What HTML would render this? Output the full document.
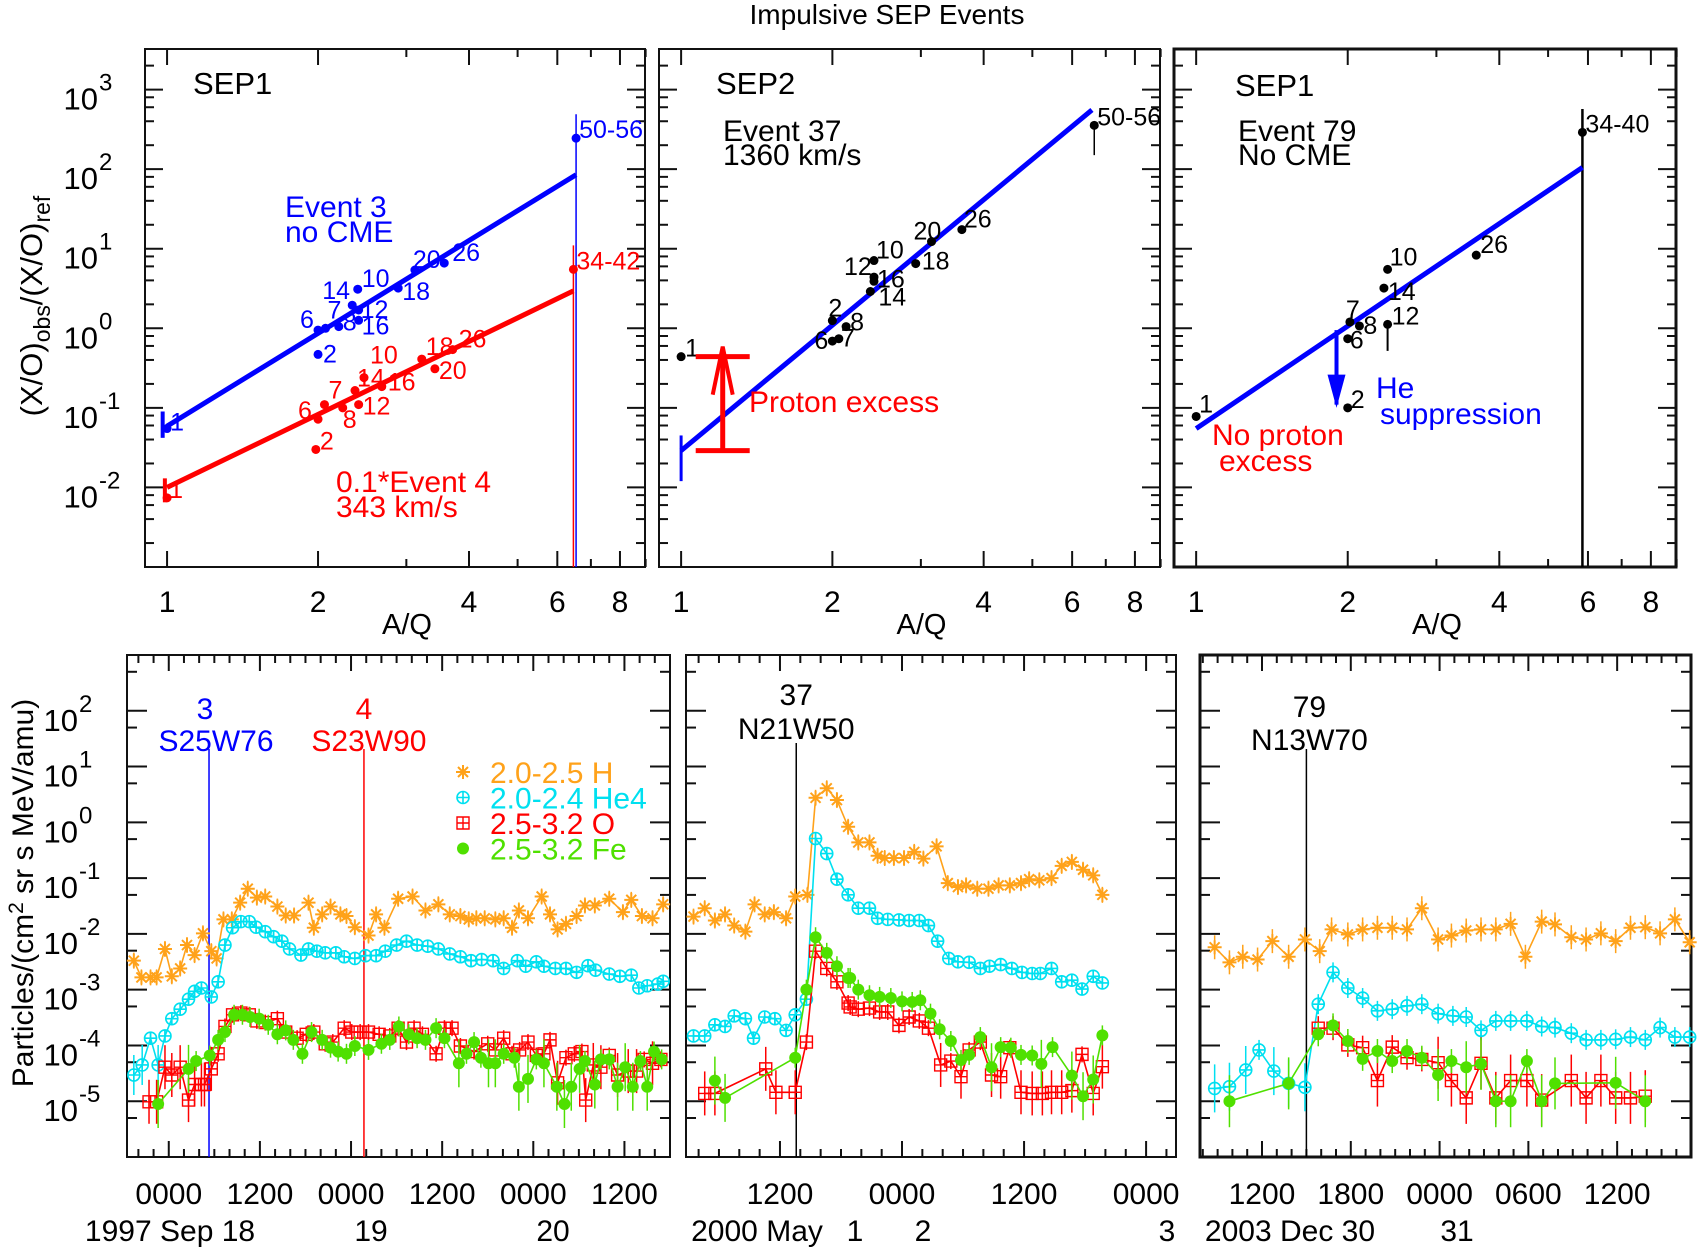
<!DOCTYPE html>
<html><head><meta charset="utf-8"><title>Impulsive SEP Events</title>
<style>
html,body{margin:0;padding:0;background:#fff;}
svg{display:block;font-family:"Liberation Sans",Arial,sans-serif;}
</style></head>
<body>
<svg id="chart" width="1699" height="1250" viewBox="0 0 1699 1250" xmlns="http://www.w3.org/2000/svg">
<rect x="0" y="0" width="1699" height="1250" fill="#fff"/>
<text x="887" y="24" font-size="28" text-anchor="middle">Impulsive SEP Events</text>
</svg>
<script>
// ===== Top panels: (X/O)obs/(X/O)ref vs A/Q =====
const p1BlueAQ = [1, 2, 2.0, 2.07, 2.2, 2.34, 2.40, 2.41, 2.41, 2.89, 3.12, 3.57, 6.54];
const p1BlueVal = [0.055, 0.47, 0.95, 1.0, 1.05, 1.95, 3.1, 1.7, 1.26, 3.2, 5.4, 6.6, 245];
const p1BlueLbl = ['1','2','6','7','8','14','10','12','16','18','20','26','50-56'];
const p1RedAQ = [1, 1.98, 2.0, 2.06, 2.24, 2.41, 2.37, 2.47, 2.68, 3.22, 3.42, 3.71, 6.46];
const p1RedVal = [0.0074, 0.03, 0.072, 0.11, 0.1, 0.11, 0.165, 0.24, 0.185, 0.41, 0.31, 0.54, 5.5];
const p1RedLbl = ['1','2','6','7','8','12','14','10','16','18','20','26','34-42'];
const p2AQ = [1.0, 2.0, 2.0, 2.06, 2.13, 2.38, 2.42, 2.42, 2.42, 2.93, 3.15, 3.62, 6.64];
const p2Val = [0.44, 1.25, 0.69, 0.74, 1.05, 2.9, 3.9, 4.4, 7.1, 6.5, 12.3, 17.4, 355];
const p2Lbl = ['1','2','6','7','8','14','16','12','10','18','20','26','50-56'];
const p3AQ = [1.0, 2.0, 2.0, 2.02, 2.11, 2.40, 2.36, 2.40, 3.6, 5.85];
const p3Val = [0.078, 0.10, 0.74, 1.2, 1.07, 1.12, 3.2, 5.5, 8.3, 290];
const p3Lbl = ['1','2','6','7','8','12','14','10','26','34-40'];
const p1BlueFitAQ = [1, 6.54], p1BlueFitVal = [0.059, 85];
const p1RedFitAQ = [1, 6.46], p1RedFitVal = [0.01, 2.95];
const p2FitAQ = [1, 6.57], p2FitVal = [0.029, 555];
const p3FitAQ = [1, 5.85], p3FitVal = [0.055, 105];
const topYTicks = [3, 2, 1, 0, -1, -2];
const topXTicks = [1, 2, 4, 6, 8];

// ===== Bottom panels: time profiles (t in hours, values log10 flux) =====
const b1HT = [-4.6,-3.6,-2.4,-1.6,-0.5,0.4,1.5,2.4,3.4,4.5,5.6,6.3,7.2,8.3,9.4,10.4,11.6,12.7,14.3,15.4,16.5,18.4,19.1,20.2,21.3,22.6,23.4,24.5,26.3,27.3,28.4,30.2,32.1,33.8,35.5,37.0,38.4,39.5,40.5,41.6,43.0,44.1,45.2,46.1,47.3,49.1,50.2,51.2,52.3,53.7,54.8,56.1,58.0,59.8,60.9,62.3,63.7,65.1];
const b1HLog = [-2.48,-2.78,-2.78,-2.78,-2.27,-2.76,-2.62,-2.20,-2.38,-1.99,-2.31,-2.44,-1.74,-1.74,-1.44,-1.19,-1.35,-1.33,-1.51,-1.67,-1.67,-1.44,-1.89,-1.65,-1.51,-1.65,-1.68,-1.88,-2.03,-1.65,-1.89,-1.37,-1.33,-1.58,-1.47,-1.65,-1.68,-1.74,-1.72,-1.72,-1.74,-1.72,-1.89,-1.58,-1.72,-1.33,-1.65,-1.92,-1.82,-1.68,-1.49,-1.49,-1.37,-1.61,-1.39,-1.68,-1.72,-1.47];
const b1HeT = [-4.6,-3.5,-2.4,-1.4,-0.5,0.4,1.5,2.6,3.4,4.3,5.6,6.5,7.4,8.4,9.5,10.6,11.5,12.7,13.8,14.9,15.9,17.4,18.4,19.5,20.6,22.0,23.1,24.5,25.9,27.3,28.5,30.0,31.3,32.7,34.1,35.5,37.0,38.4,39.8,41.2,42.7,44.1,45.9,47.0,48.4,49.4,50.9,52.3,53.7,55.2,56.2,58.0,59.4,60.9,61.9,63.0,64.4,65.1];
const b1HeLog = [-4.53,-4.35,-3.87,-4.35,-3.83,-3.52,-3.35,-3.17,-3.03,-2.97,-3.13,-2.86,-2.20,-1.89,-1.78,-1.78,-1.88,-1.96,-2.05,-2.13,-2.27,-2.38,-2.27,-2.31,-2.34,-2.34,-2.41,-2.44,-2.39,-2.39,-2.31,-2.20,-2.13,-2.20,-2.22,-2.27,-2.36,-2.41,-2.48,-2.46,-2.48,-2.62,-2.48,-2.58,-2.50,-2.58,-2.62,-2.62,-2.69,-2.57,-2.65,-2.72,-2.76,-2.74,-2.97,-2.93,-2.90,-2.85];
const b1OT = [-2.6,-1.6,-0.5,0.4,1.5,2.6,3.4,4.3,4.7,5.6,6.5,7.4,8.4,9.5,10.6,11.6,12.7,14.3,15.4,16.9,18.1,19.1,20.6,21.6,23.1,24.1,25.2,26.3,27.7,29.1,30.2,31.3,32.3,33.4,35.2,36.3,37.3,38.4,40.2,42.0,43.0,44.1,45.2,46.2,47.3,48.4,49.4,50.2,51.2,52.3,53.4,54.4,54.9,55.9,56.9,58.0,59.1,60.5,61.6,62.6,63.7,64.8];
const b1OLog = [-5.01,-5.01,-4.39,-4.53,-4.39,-4.98,-4.70,-4.70,-4.70,-4.42,-4.15,-3.66,-3.45,-3.42,-3.45,-3.56,-3.59,-3.52,-3.76,-3.87,-3.80,-3.76,-3.97,-3.94,-3.69,-3.76,-3.76,-3.76,-3.80,-3.83,-3.69,-3.94,-3.69,-3.80,-4.15,-3.69,-3.69,-4.01,-4.11,-3.97,-4.08,-3.87,-4.15,-4.08,-3.94,-4.18,-4.15,-3.90,-4.67,-4.22,-4.15,-4.11,-4.98,-4.35,-4.39,-4.18,-4.53,-4.46,-4.46,-4.25,-4.32,-4.25];
const b1FeT = [-1.4,2.6,3.6,5.4,6.5,7.4,8.6,9.7,10.7,11.9,13.1,14.3,15.4,16.4,17.6,18.8,20.2,21.3,22.3,23.4,24.5,26.3,28.0,29.1,30.3,31.6,32.7,33.8,35.2,36.3,38.2,39.2,40.2,41.1,42.1,43.0,44.1,45.5,46.1,47.3,48.4,49.4,51.1,52.1,53.0,54.1,54.8,56.1,56.9,58.0,59.1,60.1,61.1,62.1,63.0,63.9,64.9];
const b1FeLog = [-5.05,-4.42,-4.28,-4.18,-3.90,-3.76,-3.45,-3.45,-3.49,-3.52,-3.63,-3.80,-3.73,-3.90,-4.15,-3.76,-3.90,-4.04,-4.11,-4.15,-4.01,-4.08,-3.97,-3.90,-3.66,-3.80,-3.87,-3.90,-3.69,-3.87,-4.32,-4.15,-3.94,-4.22,-4.32,-4.32,-4.15,-4.22,-4.74,-4.60,-4.25,-4.32,-4.74,-5.05,-4.74,-4.42,-4.28,-4.70,-4.25,-4.25,-4.74,-4.39,-4.74,-4.28,-4.74,-4.11,-4.25];

const b2HT = [3.5,4.6,5.6,6.6,7.5,8.6,9.5,10.5,11.4,12.6,13.5,14.7,15.5,16.6,17.6,18.7,19.7,20.8,21.6,22.3,23.2,24.2,25.2,26.1,27.4,28.5,29.5,30.3,31.4,32.5,33.5,34.6,35.7,36.5,37.5,38.7,39.7,40.7,41.8,42.8,43.7];
const b2HLog = [-1.69,-1.54,-1.76,-1.65,-1.85,-1.96,-1.47,-1.65,-1.61,-1.72,-1.33,-1.30,0.44,0.61,0.40,-0.08,-0.36,-0.36,-0.60,-0.64,-0.64,-0.64,-0.53,-0.65,-0.43,-1.09,-1.16,-1.13,-1.19,-1.19,-1.13,-1.13,-1.09,-1.02,-1.04,-1.00,-0.78,-0.71,-0.85,-0.95,-1.30];
const b2HeT = [3.5,4.6,5.6,6.6,7.5,8.6,9.4,10.5,11.5,12.6,13.5,14.6,15.5,16.6,17.6,18.7,19.7,20.8,21.6,22.6,23.7,24.7,25.7,26.6,27.5,28.6,29.5,30.6,31.7,32.6,33.7,34.8,35.8,36.8,37.6,38.7,39.7,40.7,41.7,42.8,43.7];
const b2HeLog = [-3.83,-3.83,-3.63,-3.66,-3.47,-3.52,-3.87,-3.49,-3.52,-3.73,-3.45,-3.17,-0.29,-0.56,-1.02,-1.30,-1.54,-1.54,-1.72,-1.74,-1.75,-1.76,-1.76,-1.85,-2.13,-2.44,-2.50,-2.51,-2.62,-2.58,-2.55,-2.62,-2.69,-2.71,-2.71,-2.62,-2.86,-2.83,-2.99,-2.76,-2.88];
const b2OT = [4.6,5.6,10.6,11.6,13.5,14.6,15.5,16.6,17.6,18.7,18.9,19.7,20.8,21.8,22.6,23.7,24.7,25.7,26.6,27.8,28.8,29.8,30.6,31.7,32.8,33.7,34.6,35.7,36.8,37.8,38.7,39.7,40.7,41.7,42.8,43.7];
const b2OLog = [-4.86,-4.86,-4.42,-4.84,-4.84,-3.94,-2.31,-2.62,-2.86,-3.24,-3.31,-3.35,-3.33,-3.40,-3.40,-3.64,-3.49,-3.56,-3.69,-4.35,-4.28,-4.56,-4.08,-3.94,-4.53,-4.56,-4.04,-4.84,-4.86,-4.86,-4.84,-4.84,-4.81,-4.16,-4.86,-4.38];
const b2FeT = [5.6,6.6,13.5,14.6,15.5,16.6,17.6,18.7,18.9,19.7,20.8,21.8,22.9,24.0,25.0,25.8,26.8,27.7,28.8,29.8,30.6,31.7,32.8,33.7,34.7,35.7,36.8,37.7,38.8,40.7,41.8,42.8,43.7];
const b2FeLog = [-4.63,-4.94,-4.22,-3.00,-2.06,-2.34,-2.58,-2.79,-2.79,-3.00,-3.10,-3.13,-3.15,-3.21,-3.22,-3.19,-3.43,-3.71,-3.92,-4.26,-4.17,-3.85,-4.39,-4.03,-4.04,-4.17,-4.18,-4.33,-4.03,-4.54,-4.91,-4.61,-3.82];

const b3HT = [8.8,9.8,10.7,11.7,12.7,13.8,14.9,15.9,16.7,17.8,18.8,19.8,20.8,21.8,22.8,23.9,24.8,25.8,26.8,27.8,28.8,29.8,30.9,31.8,32.9,33.9,34.9,35.9,36.9,37.9,38.9,39.9,40.9];
const b3HLog = [-2.24,-2.51,-2.41,-2.46,-2.13,-2.41,-2.10,-2.31,-1.92,-2.01,-1.92,-1.89,-1.89,-1.92,-1.54,-2.10,-2.03,-1.94,-1.92,-1.92,-1.82,-2.41,-1.78,-1.83,-2.06,-2.10,-1.99,-2.13,-1.89,-1.88,-1.99,-1.74,-2.15];
const b3HeT = [8.8,9.8,10.9,11.8,12.8,13.8,14.9,15.8,16.8,17.8,18.8,19.8,20.8,21.8,22.8,23.9,24.9,25.8,26.8,27.8,28.8,29.9,30.9,31.8,32.9,33.9,34.9,35.9,36.9,37.9,38.9,39.9,40.9];
const b3HeLog = [-4.77,-4.74,-4.44,-4.08,-4.46,-4.68,-4.75,-3.26,-2.69,-2.97,-3.15,-3.38,-3.35,-3.29,-3.26,-3.43,-3.47,-3.49,-3.73,-3.56,-3.56,-3.56,-3.66,-3.68,-3.78,-3.90,-3.90,-3.89,-3.85,-3.90,-3.68,-3.85,-3.85];
const b3OT = [15.8,16.8,17.8,18.8,19.8,20.8,21.8,22.8,23.9,24.8,25.8,26.8,27.8,28.8,29.9,30.9,32.9,33.9,34.9,35.9,36.9,37.9];
const b3OLog = [-3.69,-3.69,-3.99,-4.04,-4.63,-4.03,-4.22,-4.25,-4.31,-4.63,-4.94,-4.32,-4.94,-4.63,-4.63,-4.98,-4.63,-4.94,-4.63,-4.94,-4.94,-4.91];
const b3FeT = [9.8,13.8,15.8,16.8,17.8,18.8,19.8,20.8,21.8,22.8,23.9,24.8,25.8,26.8,27.8,28.8,29.9,30.9,31.8,35.9,37.9];
const b3FeLog = [-5.0,-4.68,-3.80,-3.64,-3.92,-4.24,-4.10,-4.28,-4.10,-4.22,-4.53,-4.28,-4.39,-4.33,-5.0,-5.0,-4.28,-5.0,-4.68,-4.67,-5.0];

const b1Events = [5.3, 25.7];
const b2Events = [13.6];
const b3Events = [15.0];
const botYTicks = [2, 1, 0, -1, -2, -3, -4, -5];

// ===== drawing =====
const NS = 'http://www.w3.org/2000/svg';
const svg = document.getElementById('chart');
function mk(tag, attrs, parent) {
  const e = document.createElementNS(NS, tag);
  for (const k in attrs) e.setAttribute(k, attrs[k]);
  (parent || svg).appendChild(e);
  return e;
}
function grp(name) {
  const g = mk('g', {});
  
  
  return g;
}
const COL = {blue:'#0000ff', red:'#ff0000', black:'#000', orange:'#ffa21a', cyan:'#00e0f0', green:'#4fe000'};

// --- top panel axes ---
const TOP = {top:49, bottom:567};
const topPanels = [{left:145,right:645,bw:2},{left:659,right:1160,bw:2},{left:1174,right:1676,bw:3}];
function xAQ(p, aq) { return p.left + (Math.log10(aq) + 0.044) / 0.997 * (p.right - p.left); }
function yR(v) { return TOP.bottom - (Math.log10(v) + 3) / 6.51 * (TOP.bottom - TOP.top); }

topPanels.forEach((p, i) => {
  const g = grp('ratio-panel-' + (i + 1));
  const frame = mk('rect', {x:p.left, y:TOP.top, width:p.right-p.left, height:TOP.bottom-TOP.top, fill:'none', stroke:'#111', 'stroke-width':p.bw}, g);
  
  
  for (let d = -3; d <= 3; d++) {
    [1,2,4,6,8].forEach(m => {
      const v = m * Math.pow(10, d);
      if (v > Math.pow(10, 3.5)) return;
      const y = yR(v), L = m === 1 ? 18 : 9;
      const t1 = mk('line', {x1:p.left, x2:p.left+L, y1:y, y2:y, stroke:'#111', 'stroke-width':2}, g);
      
      
      const t2 = mk('line', {x1:p.right, x2:p.right-L, y1:y, y2:y, stroke:'#111', 'stroke-width':2}, g);
      
      
    });
  }
  [1,2,3,4,5,6,7,8,9].forEach(a => {
    const x = xAQ(p, a), L = topXTicks.includes(a) ? 16 : 8;
    const t1 = mk('line', {x1:x, x2:x, y1:TOP.bottom, y2:TOP.bottom-L, stroke:'#111', 'stroke-width':2}, g);
    
    
    const t2 = mk('line', {x1:x, x2:x, y1:TOP.top, y2:TOP.top+L, stroke:'#111', 'stroke-width':2}, g);
    
    
  });
  topXTicks.forEach(a => {
    const t = mk('text', {x:xAQ(p, a), y:612, 'font-size':30, 'text-anchor':'middle'}, g);
    t.textContent = String(a);
    
    
  });
  const xt = mk('text', {x:(p.left+p.right)/2 + 12, y:634, 'font-size':29, 'text-anchor':'middle'}, g);
  xt.textContent = 'A/Q';
  
  
});
topYTicks.forEach(d => {
  const y = yR(Math.pow(10, d));
  const t = mk('text', {x:98, y:y+20, 'font-size':31, 'text-anchor':'end'});
  t.textContent = '10';
  
  
  const e = mk('text', {x:99, y:y+1, 'font-size':24});
  e.textContent = String(d);
  
  
});
const ylab = mk('text', {x:0, y:0, 'font-size':31, 'text-anchor':'middle', transform:'translate(42,306) rotate(-90)'});
ylab.innerHTML = '(X/O)<tspan font-size="23" dy="8">obs</tspan><tspan dy="-8">/(X/O)</tspan><tspan font-size="23" dy="8">ref</tspan>';



function drawFit(p, aq, val, color, name) {
  const l = mk('line', {x1:xAQ(p, aq[0]), y1:yR(val[0]), x2:xAQ(p, aq[1]), y2:yR(val[1]), stroke:color, 'stroke-width':5});
  
  
}
function drawPts(p, aq, val, lbl, offs, color, name) {
  const g = grp(name);
  aq.forEach((a, i) => {
    const x = xAQ(p, a), y = yR(val[i]);
    const c = mk('circle', {cx:x, cy:y, r:4.5, fill:color}, g);
    
    
    const o = offs[i] || [5, 6];
    const t = mk('text', {x:x+o[0], y:y+o[1], 'font-size':25, fill:color}, g);
    t.textContent = lbl[i];
    
    
  });
}
function vline(x, y1, y2, color, w, name) {
  const l = mk('line', {x1:x, x2:x, y1:y1, y2:y2, stroke:color, 'stroke-width':w});
  
  
}
const P1 = topPanels[0], P2 = topPanels[1], P3 = topPanels[2];
vline(xAQ(P1, 6.54), yR(490), TOP.bottom, COL.blue, 1.5, 'blue-error-bar');
vline(xAQ(P1, 6.46), yR(11), TOP.bottom, COL.red, 1.5, 'red-error-bar');
vline(xAQ(P1, 0.98), yR(0.09), yR(0.042), COL.blue, 4, 'blue-h-bar');
vline(xAQ(P1, 0.99), yR(0.013), yR(0.0065), COL.red, 4, 'red-h-bar');
drawFit(P1, p1BlueFitAQ, p1BlueFitVal, COL.blue, 'fit-line-event3');
drawFit(P1, p1RedFitAQ, p1RedFitVal, COL.red, 'fit-line-event4');
drawPts(P1, p1BlueAQ, p1BlueVal, p1BlueLbl, [[3,2],[5,8],[-18,-2],[2,-10],[4,4],[-30,-6],[4,-2],[2,8],[3,14],[4,12],[-2,-2],[8,-2],[3,0]], COL.blue, 'event3-points');
drawPts(P1, p1RedAQ, p1RedVal, p1RedLbl, [[2,0],[4,0],[-20,0],[4,-6],[0,20],[4,10],[2,-4],[6,-14],[6,4],[4,-4],[4,10],[6,-2],[3,0]], COL.red, 'event4-points');
vline(xAQ(P2, 6.64), yR(355), yR(150), COL.black, 1.5, 'error-bar-50-56');
vline(xAQ(P2, 1.0), yR(0.045), yR(0.012), COL.blue, 3, 'blue-h-bar');
drawFit(P2, p2FitAQ, p2FitVal, COL.blue, 'fit-line-event37');
drawPts(P2, p2AQ, p2Val, p2Lbl, [[4,0],[-4,-4],[-18,8],[2,8],[4,4],[8,14],[3,6],[-30,-2],[2,-2],[6,6],[-18,-2],[2,-2],[3,0]], COL.black, 'event37-points');
const arX = xAQ(P2, 1.21);
const arrG = grp('proton-excess-arrow');
mk('line', {x1:arX, x2:arX, y1:yR(0.029), y2:yR(0.46), stroke:COL.red, 'stroke-width':5}, arrG);
mk('line', {x1:arX-27, x2:arX+27, y1:yR(0.029), y2:yR(0.029), stroke:COL.red, 'stroke-width':5}, arrG);
mk('line', {x1:arX-27, x2:arX+27, y1:yR(0.44), y2:yR(0.44), stroke:COL.red, 'stroke-width':5}, arrG);
mk('polyline', {points:`${arX-10},${yR(0.44)+38} ${arX},${yR(0.44)-10} ${arX+10},${yR(0.44)+38}`, fill:'none', stroke:COL.red, 'stroke-width':4}, arrG);
vline(xAQ(P3, 5.85), yR(570), TOP.bottom, COL.black, 2.5, 'error-bar-34-40');
vline(xAQ(P3, 2.40), yR(1.12), yR(0.52), COL.black, 2, 'error-bar-12');
drawFit(P3, p3FitAQ, p3FitVal, COL.blue, 'fit-line-event79');
drawPts(P3, p3AQ, p3Val, p3Lbl, [[3,-4],[3,0],[2,10],[-4,-4],[4,8],[4,0],[4,12],[2,-4],[4,-2],[3,0]], COL.black, 'event79-points');
const he = grp('he-suppression-arrow');
const hx = xAQ(P3, 1.9);
mk('line', {x1:hx, x2:hx, y1:yR(0.95), y2:yR(0.11), stroke:COL.blue, 'stroke-width':4}, he);
mk('polygon', {points:`${hx-9},${yR(0.11)-30} ${hx},${yR(0.1)} ${hx+9},${yR(0.11)-30}`, fill:COL.blue}, he);

function label(x, y, str, size, color, name, anchor) {
  const t = mk('text', {x:x, y:y, 'font-size':size, fill:color, 'text-anchor':anchor || 'start'});
  t.textContent = str;
  
  
}
label(193, 94, 'SEP1', 31, '#000', 'panel-label-sep1');
label(285, 217, 'Event 3', 30, COL.blue, 'annotation-event3');
label(285, 242, 'no CME', 30, COL.blue, 'annotation-no-cme');
label(336, 492, '0.1*Event 4', 30, COL.red, 'annotation-event4');
label(336, 517, '343 km/s', 30, COL.red, 'annotation-speed-343');
label(716, 94, 'SEP2', 31, '#000', 'panel-label-sep2');
label(723, 141, 'Event 37', 30, '#000', 'annotation-event37');
label(723, 165, '1360 km/s', 30, '#000', 'annotation-speed-1360');
label(749, 412, 'Proton excess', 30, COL.red, 'annotation-proton-excess');
label(1235, 96, 'SEP1', 31, '#000', 'panel-label-sep1-right');
label(1238, 141, 'Event 79', 30, '#000', 'annotation-event79');
label(1238, 165, 'No CME', 30, '#000', 'annotation-no-cme-79');
label(1376, 398, 'He', 30, COL.blue, 'annotation-he');
label(1380, 424, 'suppression', 30, COL.blue, 'annotation-suppression');
label(1212, 445, 'No proton', 30, COL.red, 'annotation-no-proton');
label(1219, 471, 'excess', 30, COL.red, 'annotation-excess');

// --- bottom panels ---
const BOT = {top:655, bottom:1157};
const botPanels = [
  {left:127, right:670, t0:-5.5, t1:66, minor:2, major:12, bw:2},
  {left:686, right:1176, t0:2.76, t1:50.94, minor:2, major:12, bw:2},
  {left:1200, right:1691, t0:7.81, t1:40.99, minor:1, major:6, bw:3}
];
function xT(p, t) { return p.left + (t - p.t0) / (p.t1 - p.t0) * (p.right - p.left); }
function yF(lg) { return BOT.bottom - (lg + 6) / 9 * (BOT.bottom - BOT.top); }

botPanels.forEach((p, i) => {
  const g = grp('flux-panel-' + (i + 1));
  const frame = mk('rect', {x:p.left, y:BOT.top, width:p.right-p.left, height:BOT.bottom-BOT.top, fill:'none', stroke:'#111', 'stroke-width':p.bw}, g);
  
  
  for (let d = -6; d <= 3; d++) {
    [0, Math.log10(5)].forEach((m, k) => {
      const lg = d + m;
      if (lg > 3 || lg < -6) return;
      const y = yF(lg), L = k === 0 ? 20 : 10;
      const a = mk('line', {x1:p.left, x2:p.left+L, y1:y, y2:y, stroke:'#111', 'stroke-width':2}, g);
      
      
      const b = mk('line', {x1:p.right, x2:p.right-L, y1:y, y2:y, stroke:'#111', 'stroke-width':2}, g);
      
      
    });
  }
  for (let t = Math.ceil(p.t0 / p.minor) * p.minor; t <= p.t1; t += p.minor) {
    const x = xT(p, t), L = (t % p.major === 0) ? 16 : 8;
    const a = mk('line', {x1:x, x2:x, y1:BOT.bottom, y2:BOT.bottom-L, stroke:'#111', 'stroke-width':2}, g);
    
    
    const b = mk('line', {x1:x, x2:x, y1:BOT.top, y2:BOT.top+L, stroke:'#111', 'stroke-width':2}, g);
    
    
  }
});
botYTicks.forEach(d => {
  const y = yF(d);
  const t = mk('text', {x:78, y:y+20, 'font-size':31, 'text-anchor':'end'});
  t.textContent = '10';
  
  
  const e = mk('text', {x:79, y:y+1, 'font-size':24});
  e.textContent = String(d);
  
  
});
const ylab2 = mk('text', {x:0, y:0, 'font-size':30, 'text-anchor':'middle', transform:'translate(33,893) rotate(-90)'});
ylab2.innerHTML = 'Particles/(cm<tspan font-size="21" dy="-10">2</tspan><tspan dy="10"> sr s MeV/amu)</tspan>';



const B1 = botPanels[0], B2 = botPanels[1], B3 = botPanels[2];
[[B1,0,'0000'],[B1,12,'1200'],[B1,24,'0000'],[B1,36,'1200'],[B1,48,'0000'],[B1,60,'1200'],
 [B2,12,'1200'],[B2,24,'0000'],[B2,36,'1200'],[B2,48,'0000'],
 [B3,12,'1200'],[B3,18,'1800'],[B3,24,'0000'],[B3,30,'0600'],[B3,36,'1200']].forEach(a => {
  label(xT(a[0], a[1]), 1204, a[2], 30, '#000', 'time-tick-label', 'middle');
});
label(170, 1241, '1997 Sep 18', 30, '#000', 'date-label', 'middle');
label(371, 1241, '19', 30, '#000', 'date-label', 'middle');
label(553, 1241, '20', 30, '#000', 'date-label', 'middle');
label(757, 1241, '2000 May', 30, '#000', 'date-label', 'middle');
label(855, 1241, '1', 30, '#000', 'date-label', 'middle');
label(923, 1241, '2', 30, '#000', 'date-label', 'middle');
label(1167, 1241, '3', 30, '#000', 'date-label', 'middle');
label(1290, 1241, '2003 Dec 30', 30, '#000', 'date-label', 'middle');
label(1457, 1241, '31', 30, '#000', 'date-label', 'middle');

function evLine(p, t, y1, color) {
  const l = mk('line', {x1:xT(p, t), x2:xT(p, t), y1:y1, y2:BOT.bottom, stroke:color, 'stroke-width':1.5});
  
  
}
evLine(B1, b1Events[0], 749, COL.blue);
evLine(B1, b1Events[1], 749, COL.red);
evLine(B2, b2Events[0], 743, COL.black);
evLine(B3, b3Events[0], 749, COL.black);
label(xT(B1, b1Events[0]) - 4, 719, '3', 30, COL.blue, 'event-number-3', 'middle');
label(xT(B1, b1Events[0]) + 7, 751, 'S25W76', 30, COL.blue, 'event-location-3', 'middle');
label(xT(B1, b1Events[1]), 719, '4', 30, COL.red, 'event-number-4', 'middle');
label(xT(B1, b1Events[1]) + 5, 751, 'S23W90', 30, COL.red, 'event-location-4', 'middle');
label(xT(B2, b2Events[0]), 705, '37', 30, '#000', 'event-number-37', 'middle');
label(xT(B2, b2Events[0]), 739, 'N21W50', 30, '#000', 'event-location-37', 'middle');
label(xT(B3, b3Events[0]) + 3, 717, '79', 30, '#000', 'event-number-79', 'middle');
label(xT(B3, b3Events[0]) + 3, 750, 'N13W70', 30, '#000', 'event-location-79', 'middle');

function marker(g, type, x, y, color) {
  let m;
  if (type === 'star') {
    m = mk('path', {d:`M${x-7} ${y}H${x+7}M${x} ${y-7}V${y+7}M${x-5} ${y-5}L${x+5} ${y+5}M${x-5} ${y+5}L${x+5} ${y-5}`, stroke:color, 'stroke-width':2, fill:'none'}, g);
  } else if (type === 'circ') {
    m = mk('path', {d:`M${x-6} ${y}a6 6 0 1 0 12 0a6 6 0 1 0 -12 0M${x-6} ${y}H${x+6}M${x} ${y-6}V${y+6}`, stroke:color, 'stroke-width':1.6, fill:'none'}, g);
  } else if (type === 'sq') {
    m = mk('path', {d:`M${x-6} ${y-6}h12v12h-12zM${x-6} ${y}H${x+6}M${x} ${y-6}V${y+6}`, stroke:color, 'stroke-width':1.4, fill:'none'}, g);
  } else {
    m = mk('circle', {cx:x, cy:y, r:6, fill:color}, g);
  }
  return m;
}
function series(p, ts, logs, color, type, name, err) {
  const g = grp(name);
  const pts = ts.map((t, i) => [xT(p, t), yF(logs[i])]);
  const path = mk('polyline', {points:pts.map(q => q[0].toFixed(1) + ',' + q[1].toFixed(1)).join(' '), fill:'none', stroke:color, 'stroke-width':1.6}, g);
  
  
  pts.forEach((q, i) => {
    const e = err + (logs[i] < -4.3 ? 14 : 0);
    const eb = mk('line', {x1:q[0], x2:q[0], y1:q[1]-e, y2:q[1]+e, stroke:color, 'stroke-width':1.5}, g);
    
    
    const m = marker(g, type, q[0], q[1], color);
    
    
  });
}
series(B1, b1HT, b1HLog, COL.orange, 'star', 'b1-series-h', 8);
series(B1, b1HeT, b1HeLog, COL.cyan, 'circ', 'b1-series-he4', 6);
series(B1, b1OT, b1OLog, COL.red, 'sq', 'b1-series-o', 8);
series(B1, b1FeT, b1FeLog, COL.green, 'dot', 'b1-series-fe', 10);
series(B2, b2HT, b2HLog, COL.orange, 'star', 'b2-series-h', 8);
series(B2, b2HeT, b2HeLog, COL.cyan, 'circ', 'b2-series-he4', 6);
series(B2, b2OT, b2OLog, COL.red, 'sq', 'b2-series-o', 8);
series(B2, b2FeT, b2FeLog, COL.green, 'dot', 'b2-series-fe', 10);
series(B3, b3HT, b3HLog, COL.orange, 'star', 'b3-series-h', 12);
series(B3, b3HeT, b3HeLog, COL.cyan, 'circ', 'b3-series-he4', 10);
series(B3, b3OT, b3OLog, COL.red, 'sq', 'b3-series-o', 12);
series(B3, b3FeT, b3FeLog, COL.green, 'dot', 'b3-series-fe', 12);

const legendNames = ['2.0-2.5 H', '2.0-2.4 He4', '2.5-3.2 O', '2.5-3.2 Fe'];
const legendCols = [COL.orange, COL.cyan, COL.red, COL.green];
const legendTypes = ['star', 'circ', 'sq', 'dot'];
const lg = grp('legend');
legendNames.forEach((n, i) => {
  const y = 772 + i * 25.5;
  const m = marker(lg, legendTypes[i], 463, y, legendCols[i]);
  
  
  const t = mk('text', {x:490, y:y+11, 'font-size':30, fill:legendCols[i]}, lg);
  t.textContent = n;
  
  
});
</script>
</body></html>
